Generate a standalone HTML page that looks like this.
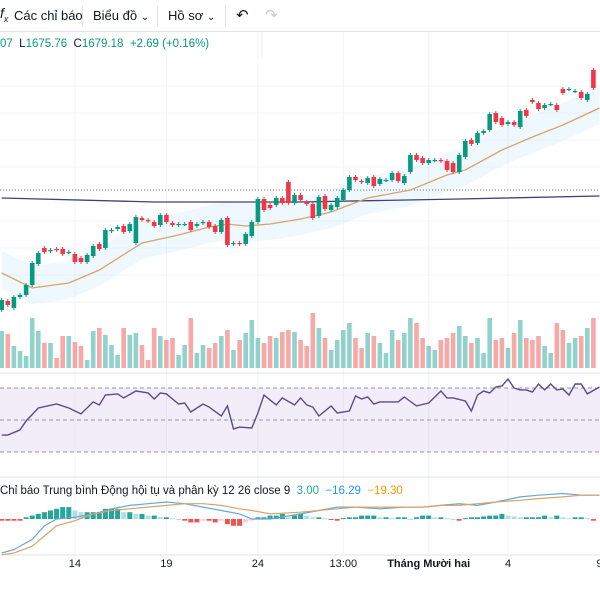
<!DOCTYPE html>
<html><head><meta charset="utf-8">
<style>
html,body{margin:0;padding:0;background:#fff;width:600px;height:600px;overflow:hidden;font-family:"Liberation Sans","Noto Sans CJK SC",sans-serif;}
#tb{position:absolute;left:0;top:0;width:600px;height:31px;border-bottom:1px solid #e0e3eb;background:#fff;font-size:13px;color:#131722;}
#tb span{position:absolute;top:8px;white-space:nowrap;}
.sep{position:absolute;top:6px;width:1px;height:20px;background:#e0e3eb;}
#legend{position:absolute;left:0;top:38px;font-size:11.5px;color:#131722;white-space:nowrap;}
#legend .g{color:#089981;}
#macdlbl{position:absolute;left:0;top:485px;font-size:11.5px;color:#131722;white-space:nowrap;}
svg{position:absolute;left:0;top:0;}
.tl{font-size:11px;fill:#131722;font-family:"Liberation Sans",sans-serif;}
</style></head><body>
<svg id="c" width="600" height="600"></svg>
<div id="tb">
<span style="left:0;top:5px;font-size:14px;font-style:italic">f<sub style="font-size:9px">x</sub></span>
<span style="left:14px">Các chỉ báo</span>
<div class="sep" style="left:82px"></div>
<span style="left:93px">Biểu đồ <span style="position:static;font-size:10px">⌄</span></span>
<div class="sep" style="left:157px"></div>
<span style="left:168px">Hồ sơ <span style="position:static;font-size:10px">⌄</span></span>
<div class="sep" style="left:225px"></div>
<span style="left:236px;font-size:15px;top:6px">↶</span>
<span style="left:265px;font-size:15px;top:6px;color:#c8cad0">↷</span>
</div>
<div id="legend"><span class="g">07</span>&nbsp; L<span class="g">1675.76</span>&nbsp; C<span class="g">1679.18</span>&nbsp; <span class="g">+2.69 (+0.16%)</span></div>
<div id="macdlbl">Chỉ báo Trung bình Động hội tụ và phân kỳ 12 26 close 9&nbsp; <span style="color:#22ab94">3.00</span>&nbsp; <span style="color:#2196f3">−16.29</span>&nbsp; <span style="color:#ff9800">−19.30</span></div>
<script>
const opens=[1590,1599,1592,1603,1605,1615,1636,1652,1649,1651,1651,1648,1646,1642,1638,1644,1656,1652,1669,1671,1674,1669,1657,1682,1680,1678,1675,1685,1677,1675,1676,1678,1674,1677,1678,1674,1668,1682,1656,1657,1656,1664,1678,1701,1695,1695,1702,1718,1697,1705,1698,1696,1684,1704,1690,1693,1700,1710,1723,1719,1717,1723,1716,1720,1720,1727,1717,1728,1745,1742,1737,1740,1740,1739,1737,1728,1743,1760,1757,1767,1770,1787,1782,1776,1778,1773,1790,1800,1797,1792,1796,1795,1811,1811,1809,1808,1800,1830];
const closes=[1600,1595,1603,1605,1615,1637,1647,1648,1650,1650,1646,1648,1638,1638,1645,1654,1651,1670,1670,1673,1668,1676,1683,1680,1679,1674,1685,1678,1675,1676,1676,1670,1676,1678,1673,1668,1680,1655,1657,1656,1666,1678,1701,1690,1692,1702,1697,1697,1705,1700,1696,1682,1703,1691,1695,1702,1710,1723,1720,1718,1722,1714,1721,1720,1727,1719,1724,1745,1740,1737,1740,1740,1739,1730,1728,1745,1759,1756,1767,1769,1786,1778,1775,1778,1775,1789,1784,1798,1791,1795,1796,1790,1807,1811,1809,1802,1806,1812];
const volumes=[37,34,22,17,12,50,37,25,25,10,32,32,26,22,8,37,40,33,23,13,40,33,35,23,8,40,32,28,30,13,23,50,15,23,20,25,32,38,18,28,35,48,30,25,32,30,36,38,36,28,22,55,40,30,18,28,38,45,30,20,35,32,25,15,38,28,35,50,45,30,22,18,28,30,35,42,32,25,30,15,50,28,30,20,35,48,30,28,32,22,15,45,38,25,30,32,40,50];
const maIdx=[0,5,11,16,23,29,34,37,40,44,49,54,60,67,73,76,82,87,92,98];
const maVal=[1627,1612,1617,1630,1657,1665,1673,1676,1674,1676,1681,1688,1702,1710,1725,1730,1750,1763,1775,1792];
const longIdx=[0,25,49,75,98];
const longVal=[1702,1698,1698,1701,1704];
const rsiIdx=[0,1,3,4,6,9,11,13,15,16,17,19,20,22,24,25,26,27,29,30,31,33,34,36,37,38,39,41,42,43,45,46,48,49,50,51,52,54,55,57,58,59,60,61,62,65,66,68,70,72,73,74,76,77,78,79,80,81,82,83,84,85,86,87,88,89,90,91,92,93,94,95,96,98];
const rsiVal=[40.6,40.6,43.8,49.4,57.5,60,57.5,53.8,61.3,59.4,65.6,66.3,63.8,68.1,66.9,63.1,66.9,66.3,60,60.6,55,60,58.1,52.5,58.8,44.4,45.6,45,54.4,65.6,59.4,63.8,59.4,63.8,59.4,58.1,52.5,58.8,54.4,55.6,65,63.1,64.4,60,61.3,61.3,64.4,58.8,60.6,68.1,63.8,63.8,61.9,55.6,65.6,68.1,66.9,70.6,71.3,75.6,70,68.8,68.8,67.5,72.5,68.8,72.5,68.8,69.4,65.6,72.5,72.5,66.3,70.6];
const macdIdx=[0,2,5,7,9,12,15,18,21,24,27,30,33,36,39,41,44,49,52,55,58,62,66,69,72,75,78,81,85,88,92,95,98];
const macdVal=[-20,-18,-12,-4,0,1,3,6,8,9,10,9,7,5,3,0,0,3,5,7,7,6,7,7,8,9,8,10,13,14,15,14,14];
const sigVal=[-21,-20,-16,-10,-4,-1,3,5,6,7,8,9,9,8,6,5,3,4,5,6,7,7,7,7,8,8,9,10,11,12,13,14,14];
const hist=[-1,-1,-1,-1,1,2,3,4,5,6,7,7,5,4,4,4,4,6,6,6,4,4,3,3,2,2,1,1,0.5,0,-1,-2,-2,-1,-1,-2,-1,-3,-4,-4,-2,-1,1,1,2,2,3,1,2,3,2,1,1,0.5,-0.5,-1,0.5,1,1,2,2,2,1,1,0.5,1,1,0,1,2,2,1,1,0.5,0,-1,0.5,1,1,1.5,2,2,3,2,1.5,1,1,1,1,2,1,2,1,0.5,1,1,0.5,-1];
const timeLabels=["14","19","24","13:00","Tháng Mười hai","4","9"];
const timeIdx=[12,27,42,56,70,83,98];

const NS="http://www.w3.org/2000/svg";
const svg=document.getElementById('c');
function el(t,a,p){const e=document.createElementNS(NS,t);for(const k in a)e.setAttribute(k,a[k]);(p||svg).appendChild(e);return e;}
const xS=i=>1.7+i*6.1;
const yP=p=>1900-p;
const volBase=368, vS=v=>volBase-v;
const yR=v=>420-(v-50)*1.6;
const macdZero=519, yM=v=>macdZero-v*1.7;
const GREEN='#089981', RED='#f23645';

for(let k=0;k<timeIdx.length-1;k++){const g=el('line',{x1:xS(timeIdx[k]),x2:xS(timeIdx[k]),y1:32,y2:555,stroke:'#f0f3fa','stroke-width':1});

}
[86,113,140,167,221,248,275,302].forEach(y=>{const g=el('line',{x1:0,x2:600,y1:y,y2:y,stroke:'#f3f5fa'});

});
[[373],[477],[555]].forEach(a=>{const g=el('line',{x1:0,x2:600,y1:a[0],y2:a[0],stroke:'#e0e3eb'});

});
el('line',{x1:262,x2:262,y1:32,y2:58,stroke:'#eceef2'});

let up='',dn='';
for(let k=0;k<maIdx.length;k++){up+=xS(maIdx[k])+','+(yP(maVal[k])-22)+' ';}
for(let k=maIdx.length-1;k>=0;k--){dn+=xS(maIdx[k])+','+(yP(maVal[k])+16)+' ';}
const cl=el('polygon',{points:up+dn,fill:'#90caf9','fill-opacity':0.14});



for(let i=0;i<volumes.length;i++){const up=closes[i]>=opens[i];
const b=el('rect',{x:xS(i)-2.3,y:vS(volumes[i]),width:4.6,height:volumes[i],fill:up?'#26a69a':'#ef5350','fill-opacity':0.5});

}

const dl=el('line',{x1:0,x2:600,y1:yP(1710),y2:yP(1710),stroke:'#787b86','stroke-dasharray':'1,2'});


const lp=el('polyline',{points:longIdx.map((d,k)=>xS(d)+','+yP(longVal[k])).join(' '),fill:'none',stroke:'#3f4273','stroke-width':1.3});


const mp=el('polyline',{points:maIdx.map((d,k)=>xS(d)+','+yP(maVal[k])).join(' '),fill:'none',stroke:'#d9a46a','stroke-width':1.3});



for(let i=0;i<opens.length;i++){const o=opens[i],c=closes[i],up=c>=o,col=up?GREEN:RED;
const hi=Math.max(o,c)+2,lo=Math.min(o,c)-2;
const w=el('line',{x1:xS(i),x2:xS(i),y1:yP(hi),y2:yP(lo),stroke:col,'stroke-width':1});


const top=yP(Math.max(o,c)),h=Math.max(1.2,Math.abs(o-c));
const r=el('rect',{x:xS(i)-2.3,y:top,width:4.6,height:h,fill:col});

}

const rb=el('rect',{x:0,y:yR(70),width:600,height:yR(30)-yR(70),fill:'#7e57c2','fill-opacity':0.1});


[70,50,30].forEach(v=>{const l=el('line',{x1:0,x2:600,y1:yR(v),y2:yR(v),stroke:'#9598a1','stroke-dasharray':'4,3'});

});
const rl=el('polyline',{points:rsiIdx.map((d,k)=>xS(d)+','+yR(rsiVal[k])).join(' '),fill:'none',stroke:'#5b4a8c','stroke-width':1.4});



for(let i=0;i<hist.length;i++){const v=hist[i],prev=i?hist[i-1]:v;let col;
if(v>=0)col=v>=prev?'#26a69a':'#b2dfdb';else col=v<=prev?'#ef5350':'#ffcdd2';
const y=v>=0?yM(v):macdZero,h=Math.max(1,Math.abs(v)*1.7);
const b=el('rect',{x:xS(i)-2.5,y:y,width:5,height:h,fill:col});

}
const ml=el('polyline',{points:macdIdx.map((d,k)=>xS(d)+','+yM(macdVal[k])).join(' '),fill:'none',stroke:'#64a8d8','stroke-width':1.2});


const sl=el('polyline',{points:macdIdx.map((d,k)=>xS(d)+','+yM(sigVal[k])).join(' '),fill:'none',stroke:'#d9a46a','stroke-width':1.2});



timeLabels.forEach((t,k)=>{const tx=el('text',{x:xS(timeIdx[k]),y:567,'text-anchor':'middle',class:'tl','font-weight':t.length>6?'bold':'normal'});
tx.textContent=t;

});
</script>
</body></html>
